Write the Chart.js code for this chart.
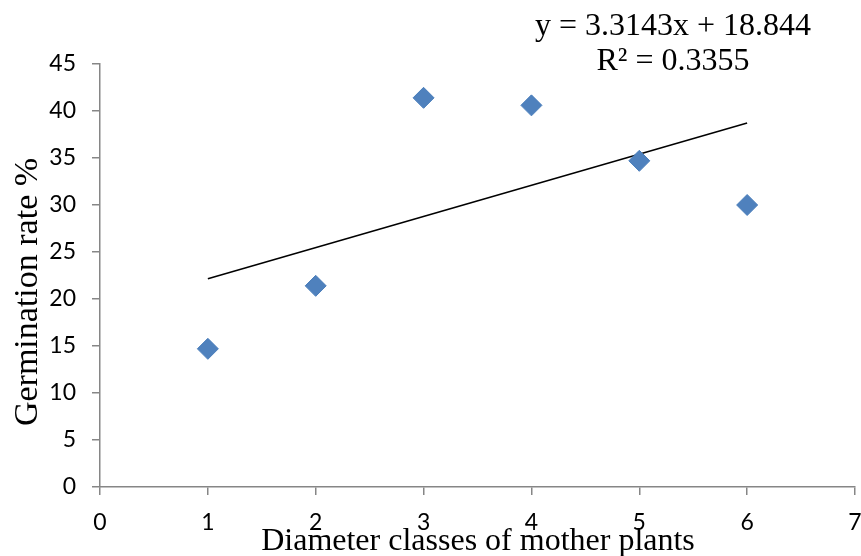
<!DOCTYPE html>
<html>
<head>
<meta charset="utf-8">
<script src="https://cdn.jsdelivr.net/npm/chart.js@4"></script>
<style>
  html, body { margin: 0; padding: 0; background: #fff; }
  #wrap { width: 861px; height: 556px; }
</style>
</head>
<body>
<div id="wrap"><canvas id="c"></canvas></div>
<script>
// diameter classes and germination rate (%)
const classes = [1, 2, 3, 4, 5, 6];
const germination = [14.7, 21.4, 41.4, 40.6, 34.7, 30.0];

// linear trend as given on the chart
const slope = 3.3143;
const intercept = 18.844;
const rSquared = '0.3355';

const xTitle = 'Diameter classes of mother plants';
const yTitle = 'Germination rate %';

const points = classes.map((x, i) => ({ x: x, y: germination[i] }));
const trendX = [classes[0], classes[classes.length - 1]];
const trend = trendX.map(x => ({ x: x, y: slope * x + intercept }));

const axisGray = '#868686';
const tickFont = { family: 'Lato, "Open Sans", sans-serif', size: 23 };

// draws axis titles and the trend equation
const textPlugin = {
  id: 'texts',
  afterDraw(chart) {
    const ctx = chart.ctx;
    ctx.save();
    ctx.fillStyle = '#000';
    ctx.textAlign = 'center';
    ctx.textBaseline = 'middle';
    ctx.font = '32px "Liberation Serif", "Times New Roman", serif';

    ctx.fillText(xTitle, 478, 542);

    ctx.fillText('y = ' + slope + 'x + ' + intercept, 673, 27);
    ctx.fillText('R² = ' + rSquared, 673, 62);

    ctx.save();
    ctx.font = '34px "Liberation Serif", "Times New Roman", serif';
    ctx.translate(28, 292);
    ctx.rotate(-Math.PI / 2);
    ctx.fillText(yTitle, 0, 0);
    ctx.restore();

    ctx.restore();
  }
};

new Chart(document.getElementById('c'), {
  type: 'scatter',
  data: {
    datasets: [
      {
        label: 'Germination',
        data: points,
        pointStyle: 'rectRot',
        pointRadius: 10.5,
        pointHoverRadius: 10.5,
        backgroundColor: '#4F81BD',
        borderColor: '#4A7EBB',
        borderWidth: 1
      },
      {
        label: 'Trend',
        data: trend,
        showLine: true,
        pointRadius: 0,
        borderColor: '#000',
        borderWidth: 1.5,
        fill: false
      }
    ]
  },
  options: {
    responsive: true,
    maintainAspectRatio: false,
    animation: false,
    layout: { autoPadding: false, padding: { top: 64, right: 6, left: 0, bottom: 0 } },
    plugins: {
      legend: { display: false },
      tooltip: { enabled: false },
      title: { display: false }
    },
    scales: {
      x: {
        type: 'linear',
        min: 0,
        max: 7,
        ticks: { stepSize: 1, color: '#000', font: tickFont, padding: 14, maxRotation: 0 },
        grid: { drawOnChartArea: false, drawTicks: true, tickLength: 8, color: axisGray, lineWidth: 1.5 },
        border: { color: axisGray, width: 1.5 },
        afterFit(scale) {
          scale.height = 69;
          scale.paddingRight = 0;
          scale.paddingLeft = 0;
        }
      },
      y: {
        min: 0,
        max: 45,
        ticks: { stepSize: 5, color: '#000', font: tickFont, padding: 16 },
        grid: { drawOnChartArea: false, drawTicks: true, tickLength: 8, color: axisGray, lineWidth: 1.5 },
        border: { color: axisGray, width: 1.5 },
        afterFit(scale) {
          scale.width = 100;
          scale.paddingTop = 0;
          scale.paddingBottom = 0;
        }
      }
    }
  },
  plugins: [textPlugin]
});
</script>
</body>
</html>
